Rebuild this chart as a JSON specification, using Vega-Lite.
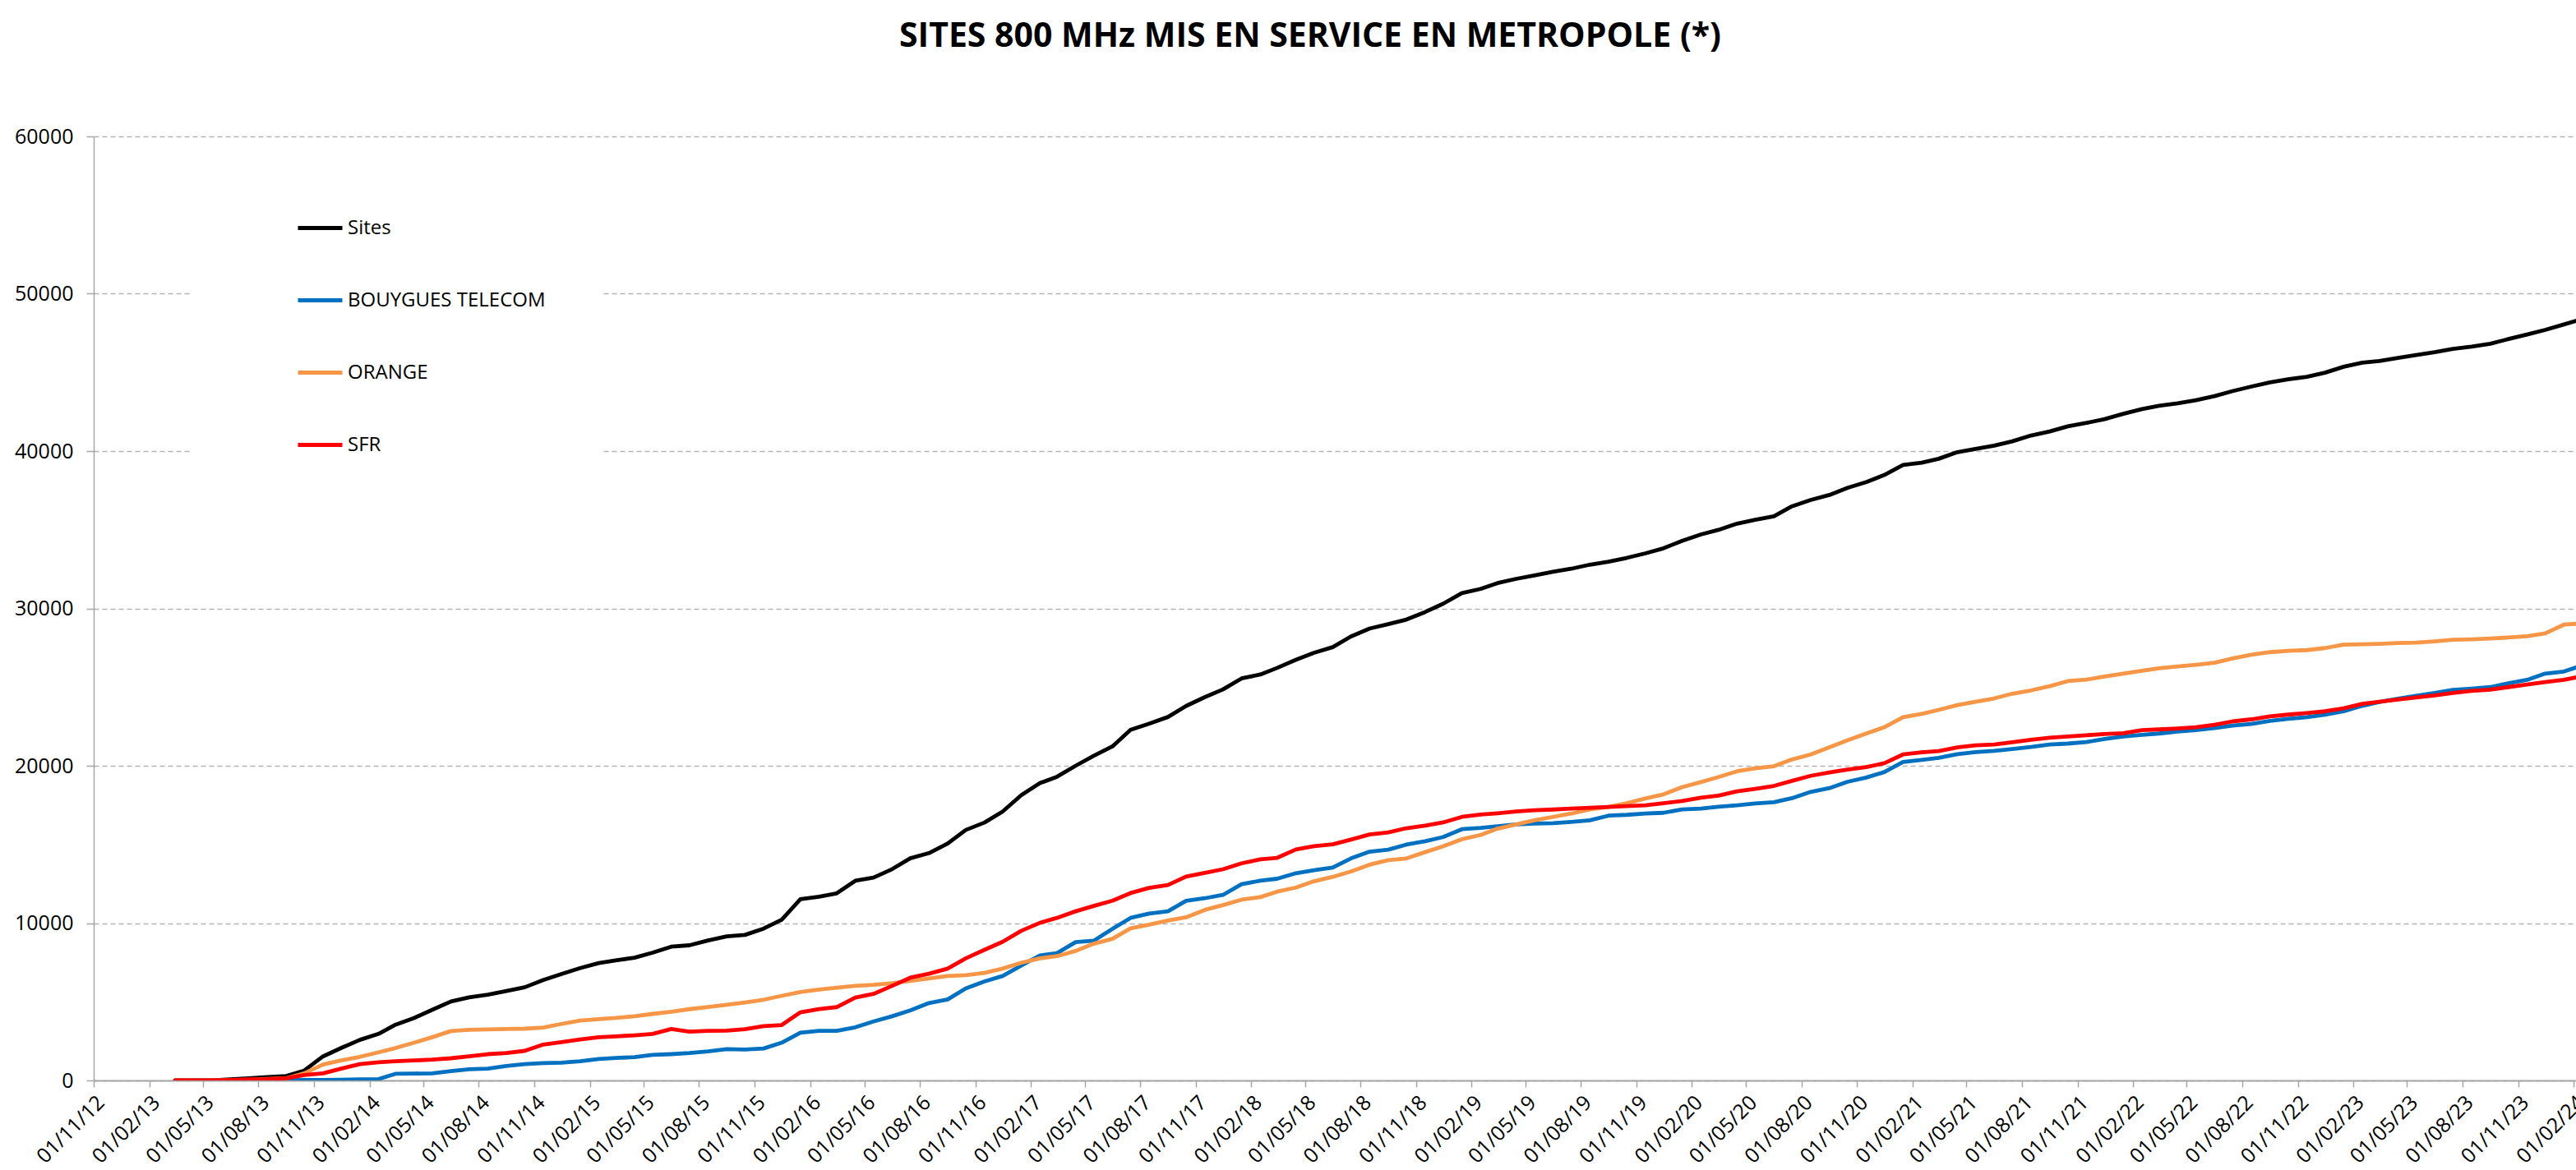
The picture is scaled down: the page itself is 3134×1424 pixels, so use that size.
{
"$schema": "https://vega.github.io/schema/vega-lite/v6.json",
"autosize": {"type": "none"},
"width": 3020, "height": 1149,
"padding": {"left": 114, "top": 166, "right": 0, "bottom": 109},
"background": "white",
"config": {"font": "Open Sans", "view": {"stroke": null}},
"title": {"text": "SITES 800 MHz MIS EN SERVICE EN METROPOLE (*)", "fontSize": 41, "fontWeight": "bold", "font": "Open Sans", "color": "#000000", "anchor": "middle", "frame": "group", "dx": -30, "offset": 88},
"data": {"values": [
{"d":"2013-03-01","s":"Sites","v":0},{"d":"2013-04-01","s":"Sites","v":0},{"d":"2013-05-01","s":"Sites","v":10},{"d":"2013-06-01","s":"Sites","v":70},{"d":"2013-07-01","s":"Sites","v":140},{"d":"2013-08-01","s":"Sites","v":210},{"d":"2013-09-01","s":"Sites","v":280},{"d":"2013-10-01","s":"Sites","v":630},{"d":"2013-11-01","s":"Sites","v":1530},{"d":"2013-12-01","s":"Sites","v":2060},
{"d":"2014-01-01","s":"Sites","v":2580},{"d":"2014-02-01","s":"Sites","v":2960},{"d":"2014-03-01","s":"Sites","v":3540},{"d":"2014-04-01","s":"Sites","v":3970},{"d":"2014-05-01","s":"Sites","v":4490},{"d":"2014-06-01","s":"Sites","v":5020},{"d":"2014-07-01","s":"Sites","v":5280},{"d":"2014-08-01","s":"Sites","v":5450},{"d":"2014-09-01","s":"Sites","v":5680},{"d":"2014-10-01","s":"Sites","v":5920},{"d":"2014-11-01","s":"Sites","v":6380},{"d":"2014-12-01","s":"Sites","v":6760},
{"d":"2015-01-01","s":"Sites","v":7140},{"d":"2015-02-01","s":"Sites","v":7460},{"d":"2015-03-01","s":"Sites","v":7630},{"d":"2015-04-01","s":"Sites","v":7800},{"d":"2015-05-01","s":"Sites","v":8120},{"d":"2015-06-01","s":"Sites","v":8500},{"d":"2015-07-01","s":"Sites","v":8590},{"d":"2015-08-01","s":"Sites","v":8900},{"d":"2015-09-01","s":"Sites","v":9160},{"d":"2015-10-01","s":"Sites","v":9250},{"d":"2015-11-01","s":"Sites","v":9650},{"d":"2015-12-01","s":"Sites","v":10220},
{"d":"2016-01-01","s":"Sites","v":11520},{"d":"2016-02-01","s":"Sites","v":11680},{"d":"2016-03-01","s":"Sites","v":11890},{"d":"2016-04-01","s":"Sites","v":12690},{"d":"2016-05-01","s":"Sites","v":12890},{"d":"2016-06-01","s":"Sites","v":13430},{"d":"2016-07-01","s":"Sites","v":14120},{"d":"2016-08-01","s":"Sites","v":14450},{"d":"2016-09-01","s":"Sites","v":15060},{"d":"2016-10-01","s":"Sites","v":15920},{"d":"2016-11-01","s":"Sites","v":16390},{"d":"2016-12-01","s":"Sites","v":17090},
{"d":"2017-01-01","s":"Sites","v":18130},{"d":"2017-02-01","s":"Sites","v":18900},{"d":"2017-03-01","s":"Sites","v":19300},{"d":"2017-04-01","s":"Sites","v":20000},{"d":"2017-05-01","s":"Sites","v":20630},{"d":"2017-06-01","s":"Sites","v":21230},{"d":"2017-07-01","s":"Sites","v":22280},{"d":"2017-08-01","s":"Sites","v":22680},{"d":"2017-09-01","s":"Sites","v":23100},{"d":"2017-10-01","s":"Sites","v":23800},{"d":"2017-11-01","s":"Sites","v":24360},{"d":"2017-12-01","s":"Sites","v":24850},
{"d":"2018-01-01","s":"Sites","v":25550},{"d":"2018-02-01","s":"Sites","v":25800},{"d":"2018-03-01","s":"Sites","v":26220},{"d":"2018-04-01","s":"Sites","v":26740},{"d":"2018-05-01","s":"Sites","v":27180},{"d":"2018-06-01","s":"Sites","v":27540},{"d":"2018-07-01","s":"Sites","v":28210},{"d":"2018-08-01","s":"Sites","v":28720},{"d":"2018-09-01","s":"Sites","v":29000},{"d":"2018-10-01","s":"Sites","v":29290},{"d":"2018-11-01","s":"Sites","v":29770},{"d":"2018-12-01","s":"Sites","v":30300},
{"d":"2019-01-01","s":"Sites","v":30970},{"d":"2019-02-01","s":"Sites","v":31240},{"d":"2019-03-01","s":"Sites","v":31610},{"d":"2019-04-01","s":"Sites","v":31880},{"d":"2019-05-01","s":"Sites","v":32090},{"d":"2019-06-01","s":"Sites","v":32330},{"d":"2019-07-01","s":"Sites","v":32520},{"d":"2019-08-01","s":"Sites","v":32780},{"d":"2019-09-01","s":"Sites","v":32970},{"d":"2019-10-01","s":"Sites","v":33210},{"d":"2019-11-01","s":"Sites","v":33500},{"d":"2019-12-01","s":"Sites","v":33820},
{"d":"2020-01-01","s":"Sites","v":34300},{"d":"2020-02-01","s":"Sites","v":34700},{"d":"2020-03-01","s":"Sites","v":34990},{"d":"2020-04-01","s":"Sites","v":35390},{"d":"2020-05-01","s":"Sites","v":35630},{"d":"2020-06-01","s":"Sites","v":35850},{"d":"2020-07-01","s":"Sites","v":36490},{"d":"2020-08-01","s":"Sites","v":36890},{"d":"2020-09-01","s":"Sites","v":37210},{"d":"2020-10-01","s":"Sites","v":37660},{"d":"2020-11-01","s":"Sites","v":38030},{"d":"2020-12-01","s":"Sites","v":38480},
{"d":"2021-01-01","s":"Sites","v":39120},{"d":"2021-02-01","s":"Sites","v":39260},{"d":"2021-03-01","s":"Sites","v":39510},{"d":"2021-04-01","s":"Sites","v":39930},{"d":"2021-05-01","s":"Sites","v":40140},{"d":"2021-06-01","s":"Sites","v":40350},{"d":"2021-07-01","s":"Sites","v":40620},{"d":"2021-08-01","s":"Sites","v":40990},{"d":"2021-09-01","s":"Sites","v":41250},{"d":"2021-10-01","s":"Sites","v":41570},{"d":"2021-11-01","s":"Sites","v":41790},{"d":"2021-12-01","s":"Sites","v":42030},
{"d":"2022-01-01","s":"Sites","v":42370},{"d":"2022-02-01","s":"Sites","v":42670},{"d":"2022-03-01","s":"Sites","v":42880},{"d":"2022-04-01","s":"Sites","v":43040},{"d":"2022-05-01","s":"Sites","v":43230},{"d":"2022-06-01","s":"Sites","v":43490},{"d":"2022-07-01","s":"Sites","v":43810},{"d":"2022-08-01","s":"Sites","v":44100},{"d":"2022-09-01","s":"Sites","v":44370},{"d":"2022-10-01","s":"Sites","v":44560},{"d":"2022-11-01","s":"Sites","v":44720},{"d":"2022-12-01","s":"Sites","v":44980},
{"d":"2023-01-01","s":"Sites","v":45360},{"d":"2023-02-01","s":"Sites","v":45620},{"d":"2023-03-01","s":"Sites","v":45730},{"d":"2023-04-01","s":"Sites","v":45920},{"d":"2023-05-01","s":"Sites","v":46100},{"d":"2023-06-01","s":"Sites","v":46290},{"d":"2023-07-01","s":"Sites","v":46500},{"d":"2023-08-01","s":"Sites","v":46640},{"d":"2023-09-01","s":"Sites","v":46820},{"d":"2023-10-01","s":"Sites","v":47120},{"d":"2023-11-01","s":"Sites","v":47410},{"d":"2023-12-01","s":"Sites","v":47700},
{"d":"2024-01-01","s":"Sites","v":48050},{"d":"2024-02-01","s":"Sites","v":48400},
{"d":"2013-03-01","s":"BOUYGUES TELECOM","v":0},{"d":"2013-04-01","s":"BOUYGUES TELECOM","v":0},{"d":"2013-05-01","s":"BOUYGUES TELECOM","v":0},{"d":"2013-06-01","s":"BOUYGUES TELECOM","v":0},{"d":"2013-07-01","s":"BOUYGUES TELECOM","v":0},{"d":"2013-08-01","s":"BOUYGUES TELECOM","v":0},{"d":"2013-09-01","s":"BOUYGUES TELECOM","v":20},{"d":"2013-10-01","s":"BOUYGUES TELECOM","v":35},{"d":"2013-11-01","s":"BOUYGUES TELECOM","v":35},{"d":"2013-12-01","s":"BOUYGUES TELECOM","v":50},
{"d":"2014-01-01","s":"BOUYGUES TELECOM","v":70},{"d":"2014-02-01","s":"BOUYGUES TELECOM","v":90},{"d":"2014-03-01","s":"BOUYGUES TELECOM","v":420},{"d":"2014-04-01","s":"BOUYGUES TELECOM","v":440},{"d":"2014-05-01","s":"BOUYGUES TELECOM","v":450},{"d":"2014-06-01","s":"BOUYGUES TELECOM","v":590},{"d":"2014-07-01","s":"BOUYGUES TELECOM","v":710},{"d":"2014-08-01","s":"BOUYGUES TELECOM","v":750},{"d":"2014-09-01","s":"BOUYGUES TELECOM","v":920},{"d":"2014-10-01","s":"BOUYGUES TELECOM","v":1040},{"d":"2014-11-01","s":"BOUYGUES TELECOM","v":1100},{"d":"2014-12-01","s":"BOUYGUES TELECOM","v":1130},
{"d":"2015-01-01","s":"BOUYGUES TELECOM","v":1220},{"d":"2015-02-01","s":"BOUYGUES TELECOM","v":1360},{"d":"2015-03-01","s":"BOUYGUES TELECOM","v":1430},{"d":"2015-04-01","s":"BOUYGUES TELECOM","v":1480},{"d":"2015-05-01","s":"BOUYGUES TELECOM","v":1620},{"d":"2015-06-01","s":"BOUYGUES TELECOM","v":1670},{"d":"2015-07-01","s":"BOUYGUES TELECOM","v":1740},{"d":"2015-08-01","s":"BOUYGUES TELECOM","v":1850},{"d":"2015-09-01","s":"BOUYGUES TELECOM","v":1990},{"d":"2015-10-01","s":"BOUYGUES TELECOM","v":1960},{"d":"2015-11-01","s":"BOUYGUES TELECOM","v":2030},{"d":"2015-12-01","s":"BOUYGUES TELECOM","v":2400},
{"d":"2016-01-01","s":"BOUYGUES TELECOM","v":3030},{"d":"2016-02-01","s":"BOUYGUES TELECOM","v":3150},{"d":"2016-03-01","s":"BOUYGUES TELECOM","v":3150},{"d":"2016-04-01","s":"BOUYGUES TELECOM","v":3380},{"d":"2016-05-01","s":"BOUYGUES TELECOM","v":3750},{"d":"2016-06-01","s":"BOUYGUES TELECOM","v":4080},{"d":"2016-07-01","s":"BOUYGUES TELECOM","v":4450},{"d":"2016-08-01","s":"BOUYGUES TELECOM","v":4920},{"d":"2016-09-01","s":"BOUYGUES TELECOM","v":5150},{"d":"2016-10-01","s":"BOUYGUES TELECOM","v":5850},{"d":"2016-11-01","s":"BOUYGUES TELECOM","v":6290},{"d":"2016-12-01","s":"BOUYGUES TELECOM","v":6640},
{"d":"2017-01-01","s":"BOUYGUES TELECOM","v":7300},{"d":"2017-02-01","s":"BOUYGUES TELECOM","v":7950},{"d":"2017-03-01","s":"BOUYGUES TELECOM","v":8090},{"d":"2017-04-01","s":"BOUYGUES TELECOM","v":8790},{"d":"2017-05-01","s":"BOUYGUES TELECOM","v":8880},{"d":"2017-06-01","s":"BOUYGUES TELECOM","v":9630},{"d":"2017-07-01","s":"BOUYGUES TELECOM","v":10330},{"d":"2017-08-01","s":"BOUYGUES TELECOM","v":10610},{"d":"2017-09-01","s":"BOUYGUES TELECOM","v":10750},{"d":"2017-10-01","s":"BOUYGUES TELECOM","v":11420},{"d":"2017-11-01","s":"BOUYGUES TELECOM","v":11580},{"d":"2017-12-01","s":"BOUYGUES TELECOM","v":11790},
{"d":"2018-01-01","s":"BOUYGUES TELECOM","v":12470},{"d":"2018-02-01","s":"BOUYGUES TELECOM","v":12700},{"d":"2018-03-01","s":"BOUYGUES TELECOM","v":12820},{"d":"2018-04-01","s":"BOUYGUES TELECOM","v":13170},{"d":"2018-05-01","s":"BOUYGUES TELECOM","v":13360},{"d":"2018-06-01","s":"BOUYGUES TELECOM","v":13530},{"d":"2018-07-01","s":"BOUYGUES TELECOM","v":14110},{"d":"2018-08-01","s":"BOUYGUES TELECOM","v":14540},{"d":"2018-09-01","s":"BOUYGUES TELECOM","v":14670},{"d":"2018-10-01","s":"BOUYGUES TELECOM","v":14990},{"d":"2018-11-01","s":"BOUYGUES TELECOM","v":15200},{"d":"2018-12-01","s":"BOUYGUES TELECOM","v":15470},
{"d":"2019-01-01","s":"BOUYGUES TELECOM","v":15970},{"d":"2019-02-01","s":"BOUYGUES TELECOM","v":16050},{"d":"2019-03-01","s":"BOUYGUES TELECOM","v":16160},{"d":"2019-04-01","s":"BOUYGUES TELECOM","v":16270},{"d":"2019-05-01","s":"BOUYGUES TELECOM","v":16320},{"d":"2019-06-01","s":"BOUYGUES TELECOM","v":16350},{"d":"2019-07-01","s":"BOUYGUES TELECOM","v":16430},{"d":"2019-08-01","s":"BOUYGUES TELECOM","v":16530},{"d":"2019-09-01","s":"BOUYGUES TELECOM","v":16830},{"d":"2019-10-01","s":"BOUYGUES TELECOM","v":16880},{"d":"2019-11-01","s":"BOUYGUES TELECOM","v":16960},{"d":"2019-12-01","s":"BOUYGUES TELECOM","v":17010},
{"d":"2020-01-01","s":"BOUYGUES TELECOM","v":17230},{"d":"2020-02-01","s":"BOUYGUES TELECOM","v":17280},{"d":"2020-03-01","s":"BOUYGUES TELECOM","v":17390},{"d":"2020-04-01","s":"BOUYGUES TELECOM","v":17490},{"d":"2020-05-01","s":"BOUYGUES TELECOM","v":17600},{"d":"2020-06-01","s":"BOUYGUES TELECOM","v":17680},{"d":"2020-07-01","s":"BOUYGUES TELECOM","v":17940},{"d":"2020-08-01","s":"BOUYGUES TELECOM","v":18340},{"d":"2020-09-01","s":"BOUYGUES TELECOM","v":18580},{"d":"2020-10-01","s":"BOUYGUES TELECOM","v":18980},{"d":"2020-11-01","s":"BOUYGUES TELECOM","v":19250},{"d":"2020-12-01","s":"BOUYGUES TELECOM","v":19600},
{"d":"2021-01-01","s":"BOUYGUES TELECOM","v":20240},{"d":"2021-02-01","s":"BOUYGUES TELECOM","v":20370},{"d":"2021-03-01","s":"BOUYGUES TELECOM","v":20500},{"d":"2021-04-01","s":"BOUYGUES TELECOM","v":20740},{"d":"2021-05-01","s":"BOUYGUES TELECOM","v":20870},{"d":"2021-06-01","s":"BOUYGUES TELECOM","v":20950},{"d":"2021-07-01","s":"BOUYGUES TELECOM","v":21060},{"d":"2021-08-01","s":"BOUYGUES TELECOM","v":21190},{"d":"2021-09-01","s":"BOUYGUES TELECOM","v":21350},{"d":"2021-10-01","s":"BOUYGUES TELECOM","v":21410},{"d":"2021-11-01","s":"BOUYGUES TELECOM","v":21510},{"d":"2021-12-01","s":"BOUYGUES TELECOM","v":21700},
{"d":"2022-01-01","s":"BOUYGUES TELECOM","v":21860},{"d":"2022-02-01","s":"BOUYGUES TELECOM","v":21970},{"d":"2022-03-01","s":"BOUYGUES TELECOM","v":22050},{"d":"2022-04-01","s":"BOUYGUES TELECOM","v":22180},{"d":"2022-05-01","s":"BOUYGUES TELECOM","v":22260},{"d":"2022-06-01","s":"BOUYGUES TELECOM","v":22390},{"d":"2022-07-01","s":"BOUYGUES TELECOM","v":22550},{"d":"2022-08-01","s":"BOUYGUES TELECOM","v":22660},{"d":"2022-09-01","s":"BOUYGUES TELECOM","v":22850},{"d":"2022-10-01","s":"BOUYGUES TELECOM","v":22980},{"d":"2022-11-01","s":"BOUYGUES TELECOM","v":23090},{"d":"2022-12-01","s":"BOUYGUES TELECOM","v":23250},
{"d":"2023-01-01","s":"BOUYGUES TELECOM","v":23460},{"d":"2023-02-01","s":"BOUYGUES TELECOM","v":23810},{"d":"2023-03-01","s":"BOUYGUES TELECOM","v":24050},{"d":"2023-04-01","s":"BOUYGUES TELECOM","v":24260},{"d":"2023-05-01","s":"BOUYGUES TELECOM","v":24450},{"d":"2023-06-01","s":"BOUYGUES TELECOM","v":24630},{"d":"2023-07-01","s":"BOUYGUES TELECOM","v":24820},{"d":"2023-08-01","s":"BOUYGUES TELECOM","v":24900},{"d":"2023-09-01","s":"BOUYGUES TELECOM","v":25000},{"d":"2023-10-01","s":"BOUYGUES TELECOM","v":25240},{"d":"2023-11-01","s":"BOUYGUES TELECOM","v":25460},{"d":"2023-12-01","s":"BOUYGUES TELECOM","v":25860},
{"d":"2024-01-01","s":"BOUYGUES TELECOM","v":25990},{"d":"2024-02-01","s":"BOUYGUES TELECOM","v":26390},
{"d":"2013-03-01","s":"ORANGE","v":0},{"d":"2013-04-01","s":"ORANGE","v":0},{"d":"2013-05-01","s":"ORANGE","v":0},{"d":"2013-06-01","s":"ORANGE","v":20},{"d":"2013-07-01","s":"ORANGE","v":50},{"d":"2013-08-01","s":"ORANGE","v":100},{"d":"2013-09-01","s":"ORANGE","v":140},{"d":"2013-10-01","s":"ORANGE","v":450},{"d":"2013-11-01","s":"ORANGE","v":1010},{"d":"2013-12-01","s":"ORANGE","v":1270},
{"d":"2014-01-01","s":"ORANGE","v":1500},{"d":"2014-02-01","s":"ORANGE","v":1790},{"d":"2014-03-01","s":"ORANGE","v":2060},{"d":"2014-04-01","s":"ORANGE","v":2400},{"d":"2014-05-01","s":"ORANGE","v":2750},{"d":"2014-06-01","s":"ORANGE","v":3140},{"d":"2014-07-01","s":"ORANGE","v":3220},{"d":"2014-08-01","s":"ORANGE","v":3240},{"d":"2014-09-01","s":"ORANGE","v":3270},{"d":"2014-10-01","s":"ORANGE","v":3290},{"d":"2014-11-01","s":"ORANGE","v":3360},{"d":"2014-12-01","s":"ORANGE","v":3590},
{"d":"2015-01-01","s":"ORANGE","v":3800},{"d":"2015-02-01","s":"ORANGE","v":3900},{"d":"2015-03-01","s":"ORANGE","v":3970},{"d":"2015-04-01","s":"ORANGE","v":4080},{"d":"2015-05-01","s":"ORANGE","v":4230},{"d":"2015-06-01","s":"ORANGE","v":4370},{"d":"2015-07-01","s":"ORANGE","v":4530},{"d":"2015-08-01","s":"ORANGE","v":4670},{"d":"2015-09-01","s":"ORANGE","v":4810},{"d":"2015-10-01","s":"ORANGE","v":4960},{"d":"2015-11-01","s":"ORANGE","v":5130},{"d":"2015-12-01","s":"ORANGE","v":5380},
{"d":"2016-01-01","s":"ORANGE","v":5620},{"d":"2016-02-01","s":"ORANGE","v":5780},{"d":"2016-03-01","s":"ORANGE","v":5900},{"d":"2016-04-01","s":"ORANGE","v":6010},{"d":"2016-05-01","s":"ORANGE","v":6080},{"d":"2016-06-01","s":"ORANGE","v":6180},{"d":"2016-07-01","s":"ORANGE","v":6320},{"d":"2016-08-01","s":"ORANGE","v":6480},{"d":"2016-09-01","s":"ORANGE","v":6640},{"d":"2016-10-01","s":"ORANGE","v":6690},{"d":"2016-11-01","s":"ORANGE","v":6830},{"d":"2016-12-01","s":"ORANGE","v":7110},
{"d":"2017-01-01","s":"ORANGE","v":7480},{"d":"2017-02-01","s":"ORANGE","v":7760},{"d":"2017-03-01","s":"ORANGE","v":7900},{"d":"2017-04-01","s":"ORANGE","v":8230},{"d":"2017-05-01","s":"ORANGE","v":8690},{"d":"2017-06-01","s":"ORANGE","v":9000},{"d":"2017-07-01","s":"ORANGE","v":9670},{"d":"2017-08-01","s":"ORANGE","v":9900},{"d":"2017-09-01","s":"ORANGE","v":10160},{"d":"2017-10-01","s":"ORANGE","v":10370},{"d":"2017-11-01","s":"ORANGE","v":10840},{"d":"2017-12-01","s":"ORANGE","v":11140},
{"d":"2018-01-01","s":"ORANGE","v":11490},{"d":"2018-02-01","s":"ORANGE","v":11650},{"d":"2018-03-01","s":"ORANGE","v":12000},{"d":"2018-04-01","s":"ORANGE","v":12260},{"d":"2018-05-01","s":"ORANGE","v":12660},{"d":"2018-06-01","s":"ORANGE","v":12940},{"d":"2018-07-01","s":"ORANGE","v":13280},{"d":"2018-08-01","s":"ORANGE","v":13710},{"d":"2018-09-01","s":"ORANGE","v":14000},{"d":"2018-10-01","s":"ORANGE","v":14110},{"d":"2018-11-01","s":"ORANGE","v":14510},{"d":"2018-12-01","s":"ORANGE","v":14880},
{"d":"2019-01-01","s":"ORANGE","v":15330},{"d":"2019-02-01","s":"ORANGE","v":15600},{"d":"2019-03-01","s":"ORANGE","v":16000},{"d":"2019-04-01","s":"ORANGE","v":16270},{"d":"2019-05-01","s":"ORANGE","v":16530},{"d":"2019-06-01","s":"ORANGE","v":16750},{"d":"2019-07-01","s":"ORANGE","v":16960},{"d":"2019-08-01","s":"ORANGE","v":17230},{"d":"2019-09-01","s":"ORANGE","v":17380},{"d":"2019-10-01","s":"ORANGE","v":17620},{"d":"2019-11-01","s":"ORANGE","v":17920},{"d":"2019-12-01","s":"ORANGE","v":18180},
{"d":"2020-01-01","s":"ORANGE","v":18640},{"d":"2020-02-01","s":"ORANGE","v":18960},{"d":"2020-03-01","s":"ORANGE","v":19280},{"d":"2020-04-01","s":"ORANGE","v":19650},{"d":"2020-05-01","s":"ORANGE","v":19840},{"d":"2020-06-01","s":"ORANGE","v":19970},{"d":"2020-07-01","s":"ORANGE","v":20400},{"d":"2020-08-01","s":"ORANGE","v":20720},{"d":"2020-09-01","s":"ORANGE","v":21170},{"d":"2020-10-01","s":"ORANGE","v":21620},{"d":"2020-11-01","s":"ORANGE","v":22050},{"d":"2020-12-01","s":"ORANGE","v":22450},
{"d":"2021-01-01","s":"ORANGE","v":23090},{"d":"2021-02-01","s":"ORANGE","v":23300},{"d":"2021-03-01","s":"ORANGE","v":23550},{"d":"2021-04-01","s":"ORANGE","v":23860},{"d":"2021-05-01","s":"ORANGE","v":24070},{"d":"2021-06-01","s":"ORANGE","v":24280},{"d":"2021-07-01","s":"ORANGE","v":24580},{"d":"2021-08-01","s":"ORANGE","v":24790},{"d":"2021-09-01","s":"ORANGE","v":25060},{"d":"2021-10-01","s":"ORANGE","v":25380},{"d":"2021-11-01","s":"ORANGE","v":25480},{"d":"2021-12-01","s":"ORANGE","v":25670},
{"d":"2022-01-01","s":"ORANGE","v":25860},{"d":"2022-02-01","s":"ORANGE","v":26040},{"d":"2022-03-01","s":"ORANGE","v":26200},{"d":"2022-04-01","s":"ORANGE","v":26310},{"d":"2022-05-01","s":"ORANGE","v":26420},{"d":"2022-06-01","s":"ORANGE","v":26550},{"d":"2022-07-01","s":"ORANGE","v":26820},{"d":"2022-08-01","s":"ORANGE","v":27060},{"d":"2022-09-01","s":"ORANGE","v":27220},{"d":"2022-10-01","s":"ORANGE","v":27300},{"d":"2022-11-01","s":"ORANGE","v":27350},{"d":"2022-12-01","s":"ORANGE","v":27480},
{"d":"2023-01-01","s":"ORANGE","v":27700},{"d":"2023-02-01","s":"ORANGE","v":27720},{"d":"2023-03-01","s":"ORANGE","v":27750},{"d":"2023-04-01","s":"ORANGE","v":27800},{"d":"2023-05-01","s":"ORANGE","v":27830},{"d":"2023-06-01","s":"ORANGE","v":27910},{"d":"2023-07-01","s":"ORANGE","v":28010},{"d":"2023-08-01","s":"ORANGE","v":28040},{"d":"2023-09-01","s":"ORANGE","v":28090},{"d":"2023-10-01","s":"ORANGE","v":28150},{"d":"2023-11-01","s":"ORANGE","v":28230},{"d":"2023-12-01","s":"ORANGE","v":28410},
{"d":"2024-01-01","s":"ORANGE","v":28970},{"d":"2024-02-01","s":"ORANGE","v":29050},
{"d":"2013-03-01","s":"SFR","v":0},{"d":"2013-04-01","s":"SFR","v":0},{"d":"2013-05-01","s":"SFR","v":0},{"d":"2013-06-01","s":"SFR","v":35},{"d":"2013-07-01","s":"SFR","v":70},{"d":"2013-08-01","s":"SFR","v":90},{"d":"2013-09-01","s":"SFR","v":140},{"d":"2013-10-01","s":"SFR","v":350},{"d":"2013-11-01","s":"SFR","v":450},{"d":"2013-12-01","s":"SFR","v":750},
{"d":"2014-01-01","s":"SFR","v":1040},{"d":"2014-02-01","s":"SFR","v":1150},{"d":"2014-03-01","s":"SFR","v":1220},{"d":"2014-04-01","s":"SFR","v":1270},{"d":"2014-05-01","s":"SFR","v":1320},{"d":"2014-06-01","s":"SFR","v":1410},{"d":"2014-07-01","s":"SFR","v":1530},{"d":"2014-08-01","s":"SFR","v":1670},{"d":"2014-09-01","s":"SFR","v":1740},{"d":"2014-10-01","s":"SFR","v":1880},{"d":"2014-11-01","s":"SFR","v":2280},{"d":"2014-12-01","s":"SFR","v":2440},
{"d":"2015-01-01","s":"SFR","v":2610},{"d":"2015-02-01","s":"SFR","v":2750},{"d":"2015-03-01","s":"SFR","v":2800},{"d":"2015-04-01","s":"SFR","v":2870},{"d":"2015-05-01","s":"SFR","v":2960},{"d":"2015-06-01","s":"SFR","v":3270},{"d":"2015-07-01","s":"SFR","v":3100},{"d":"2015-08-01","s":"SFR","v":3150},{"d":"2015-09-01","s":"SFR","v":3170},{"d":"2015-10-01","s":"SFR","v":3260},{"d":"2015-11-01","s":"SFR","v":3450},{"d":"2015-12-01","s":"SFR","v":3520},
{"d":"2016-01-01","s":"SFR","v":4330},{"d":"2016-02-01","s":"SFR","v":4540},{"d":"2016-03-01","s":"SFR","v":4660},{"d":"2016-04-01","s":"SFR","v":5270},{"d":"2016-05-01","s":"SFR","v":5500},{"d":"2016-06-01","s":"SFR","v":6010},{"d":"2016-07-01","s":"SFR","v":6530},{"d":"2016-08-01","s":"SFR","v":6780},{"d":"2016-09-01","s":"SFR","v":7110},{"d":"2016-10-01","s":"SFR","v":7760},{"d":"2016-11-01","s":"SFR","v":8300},{"d":"2016-12-01","s":"SFR","v":8810},
{"d":"2017-01-01","s":"SFR","v":9510},{"d":"2017-02-01","s":"SFR","v":10020},{"d":"2017-03-01","s":"SFR","v":10330},{"d":"2017-04-01","s":"SFR","v":10750},{"d":"2017-05-01","s":"SFR","v":11090},{"d":"2017-06-01","s":"SFR","v":11420},{"d":"2017-07-01","s":"SFR","v":11910},{"d":"2017-08-01","s":"SFR","v":12240},{"d":"2017-09-01","s":"SFR","v":12420},{"d":"2017-10-01","s":"SFR","v":12960},{"d":"2017-11-01","s":"SFR","v":13190},{"d":"2017-12-01","s":"SFR","v":13420},
{"d":"2018-01-01","s":"SFR","v":13800},{"d":"2018-02-01","s":"SFR","v":14050},{"d":"2018-03-01","s":"SFR","v":14150},{"d":"2018-04-01","s":"SFR","v":14680},{"d":"2018-05-01","s":"SFR","v":14890},{"d":"2018-06-01","s":"SFR","v":15010},{"d":"2018-07-01","s":"SFR","v":15310},{"d":"2018-08-01","s":"SFR","v":15630},{"d":"2018-09-01","s":"SFR","v":15760},{"d":"2018-10-01","s":"SFR","v":16030},{"d":"2018-11-01","s":"SFR","v":16190},{"d":"2018-12-01","s":"SFR","v":16400},
{"d":"2019-01-01","s":"SFR","v":16750},{"d":"2019-02-01","s":"SFR","v":16900},{"d":"2019-03-01","s":"SFR","v":16980},{"d":"2019-04-01","s":"SFR","v":17090},{"d":"2019-05-01","s":"SFR","v":17170},{"d":"2019-06-01","s":"SFR","v":17220},{"d":"2019-07-01","s":"SFR","v":17280},{"d":"2019-08-01","s":"SFR","v":17330},{"d":"2019-09-01","s":"SFR","v":17380},{"d":"2019-10-01","s":"SFR","v":17440},{"d":"2019-11-01","s":"SFR","v":17490},{"d":"2019-12-01","s":"SFR","v":17620},
{"d":"2020-01-01","s":"SFR","v":17760},{"d":"2020-02-01","s":"SFR","v":17970},{"d":"2020-03-01","s":"SFR","v":18100},{"d":"2020-04-01","s":"SFR","v":18370},{"d":"2020-05-01","s":"SFR","v":18530},{"d":"2020-06-01","s":"SFR","v":18720},{"d":"2020-07-01","s":"SFR","v":19040},{"d":"2020-08-01","s":"SFR","v":19360},{"d":"2020-09-01","s":"SFR","v":19570},{"d":"2020-10-01","s":"SFR","v":19760},{"d":"2020-11-01","s":"SFR","v":19920},{"d":"2020-12-01","s":"SFR","v":20160},
{"d":"2021-01-01","s":"SFR","v":20720},{"d":"2021-02-01","s":"SFR","v":20850},{"d":"2021-03-01","s":"SFR","v":20930},{"d":"2021-04-01","s":"SFR","v":21170},{"d":"2021-05-01","s":"SFR","v":21300},{"d":"2021-06-01","s":"SFR","v":21350},{"d":"2021-07-01","s":"SFR","v":21490},{"d":"2021-08-01","s":"SFR","v":21650},{"d":"2021-09-01","s":"SFR","v":21780},{"d":"2021-10-01","s":"SFR","v":21860},{"d":"2021-11-01","s":"SFR","v":21940},{"d":"2021-12-01","s":"SFR","v":22020},
{"d":"2022-01-01","s":"SFR","v":22070},{"d":"2022-02-01","s":"SFR","v":22260},{"d":"2022-03-01","s":"SFR","v":22310},{"d":"2022-04-01","s":"SFR","v":22370},{"d":"2022-05-01","s":"SFR","v":22450},{"d":"2022-06-01","s":"SFR","v":22610},{"d":"2022-07-01","s":"SFR","v":22820},{"d":"2022-08-01","s":"SFR","v":22950},{"d":"2022-09-01","s":"SFR","v":23140},{"d":"2022-10-01","s":"SFR","v":23250},{"d":"2022-11-01","s":"SFR","v":23350},{"d":"2022-12-01","s":"SFR","v":23460},
{"d":"2023-01-01","s":"SFR","v":23650},{"d":"2023-02-01","s":"SFR","v":23940},{"d":"2023-03-01","s":"SFR","v":24070},{"d":"2023-04-01","s":"SFR","v":24210},{"d":"2023-05-01","s":"SFR","v":24340},{"d":"2023-06-01","s":"SFR","v":24470},{"d":"2023-07-01","s":"SFR","v":24630},{"d":"2023-08-01","s":"SFR","v":24760},{"d":"2023-09-01","s":"SFR","v":24840},{"d":"2023-10-01","s":"SFR","v":25000},{"d":"2023-11-01","s":"SFR","v":25160},{"d":"2023-12-01","s":"SFR","v":25320},
{"d":"2024-01-01","s":"SFR","v":25460},{"d":"2024-02-01","s":"SFR","v":25700}
]},
"mark": {"type": "line", "strokeWidth": 4.8, "xOffset": 11, "clip": true, "strokeJoin": "round", "strokeCap": "round"},
"encoding": {
"x": {"field": "d", "type": "temporal",
 "scale": {"type": "utc", "nice": false, "domain": [{"year":2012,"month":11,"date":1,"utc":true},{"year":2024,"month":2,"date":5,"utc":true}]},
 "axis": {"title": null, "grid": false, "format": "%d/%m/%y", "labelAngle": -45, "labelAlign": "right", "labelBaseline": "top", "labelFontSize": 25, "labelColor": "#000000", "labelPadding": 6, "labelFlush": false, "labelOverlap": false, "labelBound": false, "tickSize": 8, "tickColor": "#A6A6A6", "tickWidth": 1.5, "domainColor": "#A6A6A6", "domainWidth": 2,
  "values": [
  {"year":2012,"month":11,"date":1,"utc":true},
  {"year":2013,"month":2,"date":1,"utc":true},{"year":2013,"month":5,"date":1,"utc":true},{"year":2013,"month":8,"date":1,"utc":true},{"year":2013,"month":11,"date":1,"utc":true},
  {"year":2014,"month":2,"date":1,"utc":true},{"year":2014,"month":5,"date":1,"utc":true},{"year":2014,"month":8,"date":1,"utc":true},{"year":2014,"month":11,"date":1,"utc":true},
  {"year":2015,"month":2,"date":1,"utc":true},{"year":2015,"month":5,"date":1,"utc":true},{"year":2015,"month":8,"date":1,"utc":true},{"year":2015,"month":11,"date":1,"utc":true},
  {"year":2016,"month":2,"date":1,"utc":true},{"year":2016,"month":5,"date":1,"utc":true},{"year":2016,"month":8,"date":1,"utc":true},{"year":2016,"month":11,"date":1,"utc":true},
  {"year":2017,"month":2,"date":1,"utc":true},{"year":2017,"month":5,"date":1,"utc":true},{"year":2017,"month":8,"date":1,"utc":true},{"year":2017,"month":11,"date":1,"utc":true},
  {"year":2018,"month":2,"date":1,"utc":true},{"year":2018,"month":5,"date":1,"utc":true},{"year":2018,"month":8,"date":1,"utc":true},{"year":2018,"month":11,"date":1,"utc":true},
  {"year":2019,"month":2,"date":1,"utc":true},{"year":2019,"month":5,"date":1,"utc":true},{"year":2019,"month":8,"date":1,"utc":true},{"year":2019,"month":11,"date":1,"utc":true},
  {"year":2020,"month":2,"date":1,"utc":true},{"year":2020,"month":5,"date":1,"utc":true},{"year":2020,"month":8,"date":1,"utc":true},{"year":2020,"month":11,"date":1,"utc":true},
  {"year":2021,"month":2,"date":1,"utc":true},{"year":2021,"month":5,"date":1,"utc":true},{"year":2021,"month":8,"date":1,"utc":true},{"year":2021,"month":11,"date":1,"utc":true},
  {"year":2022,"month":2,"date":1,"utc":true},{"year":2022,"month":5,"date":1,"utc":true},{"year":2022,"month":8,"date":1,"utc":true},{"year":2022,"month":11,"date":1,"utc":true},
  {"year":2023,"month":2,"date":1,"utc":true},{"year":2023,"month":5,"date":1,"utc":true},{"year":2023,"month":8,"date":1,"utc":true},{"year":2023,"month":11,"date":1,"utc":true},
  {"year":2024,"month":2,"date":1,"utc":true}
  ]}},
"y": {"field": "v", "type": "quantitative",
 "scale": {"domain": [0, 60000], "nice": false},
 "axis": {"title": null, "values": [0,10000,20000,30000,40000,50000,60000], "format": "d", "labelFontSize": 25, "labelColor": "#000000", "labelPadding": 16, "tickSize": 9, "tickColor": "#A6A6A6", "tickWidth": 1.5, "domainColor": "#A6A6A6", "domainWidth": 1.5, "grid": true, "gridColor": "#B3B3B3", "gridDash": [6, 4], "gridWidth": 1.5}},
"color": {"field": "s", "type": "nominal",
 "scale": {"domain": ["Sites", "BOUYGUES TELECOM", "ORANGE", "SFR"], "range": ["#000000", "#0070C0", "#F79646", "#FF0000"]},
 "legend": {"title": null, "orient": "none", "legendX": 120, "legendY": 12, "fillColor": "#FFFFFF", "padding": 70, "symbolType": "stroke", "symbolSize": 2916, "symbolStrokeWidth": 5, "symbolOffset": 56, "labelFontSize": 24, "labelLimit": 500, "labelColor": "#000000", "labelOffset": 4, "rowPadding": 46}}
}
}
